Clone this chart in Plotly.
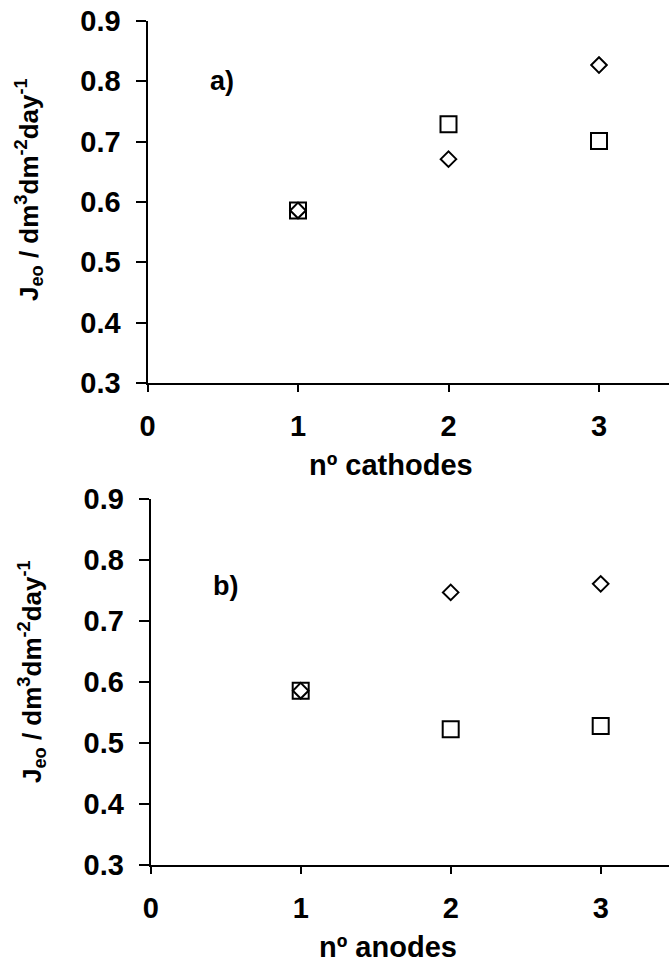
import plotly.graph_objects as go

# Data
n_electrodes = [1, 2, 3]
cathodes_square = [0.586, 0.729, 0.701]
cathodes_diamond = [0.586, 0.671, 0.827]
anodes_square = [0.586, 0.523, 0.528]
anodes_diamond = [0.586, 0.747, 0.761]
y_ticks = [0.3, 0.4, 0.5, 0.6, 0.7, 0.8, 0.9]
y_ticktext = ["0.3", "0.4", "0.5", "0.6", "0.7", "0.8", "0.9"]
x_ticks = [0, 1, 2, 3]

W, H = 669, 969
FONT = "Liberation Sans, Arial, sans-serif"
TICKSIZE = 29

fig = go.Figure()

def add_series(x, y, symbol, size, xa, ya):
    fig.add_trace(go.Scatter(
        x=x, y=y, mode="markers", xaxis=xa, yaxis=ya, showlegend=False,
        marker=dict(symbol=symbol, size=size, color="black",
                    line=dict(color="black", width=2)),
    ))

add_series(n_electrodes, cathodes_square, "square-open", 16, "x", "y")
add_series(n_electrodes, cathodes_diamond, "diamond-open", 12, "x", "y")
add_series(n_electrodes, anodes_square, "square-open", 16, "x2", "y2")
add_series(n_electrodes, anodes_diamond, "diamond-open", 12, "x2", "y2")

def px_x(p):
    return p / W

def px_y(p):
    return 1 - p / H

# panel pixel geometry
t_x0, t_ytop, t_ybot = 147.5, 21, 383
b_x0, b_ytop, b_ybot = 150.7, 499, 865.3

xaxis_common = dict(
    showline=True, linecolor="black", linewidth=2, ticks="outside",
    ticklen=7, tickwidth=2, tickcolor="black", showgrid=False, zeroline=False,
    tickvals=x_ticks, ticktext=[str(v) for v in x_ticks], automargin=False,
    tickfont=dict(family=FONT, size=TICKSIZE, color="black", weight="bold"),
    ticklabelstandoff=9,
)
yaxis_common = dict(
    showline=True, linecolor="black", linewidth=2, ticks="outside",
    ticklen=10, tickwidth=2, tickcolor="black", showgrid=False, zeroline=False,
    tickvals=y_ticks, ticktext=y_ticktext, range=[0.3, 0.9], automargin=False,
    tickfont=dict(family=FONT, size=TICKSIZE, color="black", weight="bold"),
    ticklabelstandoff=9,
)

fig.update_layout(
    template="none",
    width=W, height=H, margin=dict(l=0, r=0, t=0, b=0, pad=0),
    paper_bgcolor="white", plot_bgcolor="white",
    xaxis=dict(xaxis_common, domain=[px_x(t_x0), 1], anchor="y",
               range=[0, (W - t_x0) / 150.5]),
    yaxis=dict(yaxis_common, domain=[px_y(t_ybot), px_y(t_ytop)], anchor="x"),
    xaxis2=dict(xaxis_common, domain=[px_x(b_x0), 1], anchor="y2",
                range=[0, (W - b_x0) / 150.0]),
    yaxis2=dict(yaxis_common, domain=[px_y(b_ybot), px_y(b_ytop)], anchor="x2"),
)

ytitle = "J<sub>eo</sub> / dm<sup>3</sup>dm<sup>-2</sup>day<sup>-1</sup>"
title_font = dict(family=FONT, size=26, color="black", weight="bold")
ann = [
    dict(text=ytitle, x=px_x(29), y=px_y(190), textangle=-90),
    dict(text=ytitle, x=px_x(32), y=px_y(672), textangle=-90),
    dict(text="nº cathodes", x=px_x(391), y=px_y(465), font=dict(title_font, size=29)),
    dict(text="nº anodes", x=px_x(388), y=px_y(947), font=dict(title_font, size=29)),
]
for a in ann:
    a.setdefault("font", title_font)
    fig.add_annotation(xref="paper", yref="paper", showarrow=False,
                       xanchor="center", yanchor="middle", **a)

fig.add_annotation(text="a)", x=0.40, y=0.80, xref="x", yref="y", showarrow=False,
                   xanchor="left", yanchor="middle",
                   font=dict(family=FONT, size=27, color="black", weight="bold"))
fig.add_annotation(text="b)", x=0.40, y=0.757, xref="x2", yref="y2", showarrow=False,
                   xanchor="left", yanchor="middle",
                   font=dict(family=FONT, size=27, color="black", weight="bold"))

fig.write_html("out.html")
